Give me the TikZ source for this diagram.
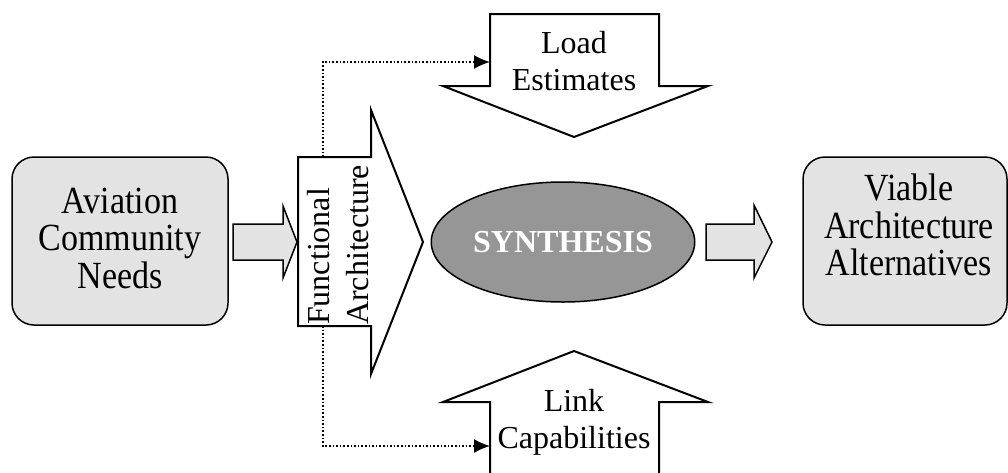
\documentclass[tikz,border=0pt]{standalone}
\usepackage{fontspec}
\setmainfont{Liberation Serif}
\usetikzlibrary{shapes.geometric, arrows.meta, positioning}

\definecolor{boxgray}{gray}{0.89}
\definecolor{synthgray}{gray}{0.59}

\begin{document}
\begin{tikzpicture}[
    x=1pt, y=-1pt,
    sidebox/.style={rectangle, draw, line width=1.5pt, rounded corners=22pt, fill=boxgray, minimum height=168pt},
    boxtext/.style={align=center, inner sep=0pt, yscale=1.13, font=\fontsize{34}{33.2}\selectfont},
    arrowtext/.style={align=center, inner sep=0pt, font=\fontsize{32}{37}\selectfont},
    bigarrow/.style={draw, line width=2pt, fill=white, line join=miter},
    flowarrow/.style={draw, line width=1.5pt, fill=boxgray, line join=miter},
    feed/.style={dotted, line width=1.6pt, -{Latex[length=16pt, width=14pt]}},
]
\useasboundingbox (0,0) rectangle (1008,472);

% Input and output boxes
\node[sidebox, minimum width=216pt] (needs) at (120,241) {};
\node[boxtext] (needsText) at (120,238) {Aviation\\Community\\Needs};
\node[sidebox, minimum width=204pt] (viable) at (905,241) {};
\node[boxtext] (viableText) at (909,225) {Viable\\Architecture\\Alternatives};

% Flow arrows into and out of the synthesis
\path[flowarrow] (233,224) -- (283,224) -- (283,206) -- (297,242) -- (283,278) -- (283,260) -- (233,260) -- cycle;
\path[flowarrow] (706,224) -- (754,224) -- (754,205) -- (772,242) -- (754,278) -- (754,260) -- (706,260) -- cycle;

% Functional architecture (block arrow pointing right)
\path[bigarrow] (298,157) -- (371,157) -- (371,110) -- (423,242) -- (371,374) -- (371,326) -- (298,326) -- cycle;
\node[rotate=90, anchor=north west, align=left, inner sep=0pt, font=\fontsize{32}{39}\selectfont] (funcText) at (307,325) {Functional\\Architecture};
\coordinate (funcTop) at (323,157);
\coordinate (funcBottom) at (323,326);

% Load estimates (pointing down)
\path[bigarrow] (490,14) -- (659,14) -- (659,86) -- (708,86) -- (574,137) -- (443,86) -- (490,86) -- cycle;
\node[arrowtext] (loadText) at (574,61) {Load\\Estimates};
\coordinate (loadIn) at (490,62);

% Link capabilities (pointing up)
\path[bigarrow] (490,478) -- (490,402) -- (443,402) -- (574,351) -- (708,402) -- (659,402) -- (659,478) -- cycle;
\node[arrowtext] (linkText) at (574,422) {Link\\Capabilities};
\coordinate (linkIn) at (490,446);

% Synthesis
\node[ellipse, draw, line width=1.5pt, fill=synthgray, minimum width=242pt, minimum height=120pt,
      text=white, font=\fontsize{32}{37}\selectfont\bfseries] (synth) at (563,242) {SYNTHESIS};

% Dotted feeds
\draw[feed] (funcTop) |- (loadIn);
\draw[feed] (funcBottom) |- (linkIn);

\end{tikzpicture}
\end{document}
